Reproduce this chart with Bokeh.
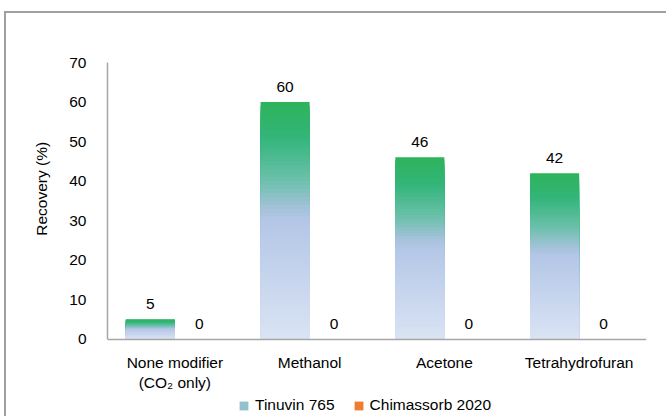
from bokeh.plotting import figure
from bokeh.models import (ColumnDataSource, FactorRange, Range1d, Legend, LegendItem,
                          FixedTicker)
from bokeh.transform import dodge
from bokeh.embed import file_html
from bokeh.resources import INLINE
from bokeh.core.properties import value

# ---- data ----
categories = ["None modifier\n(CO\u2082 only)", "Methanol", "Acetone", "Tetrahydrofuran"]
series_names = ["Tinuvin 765", "Chimassorb 2020"]
tinuvin = [5, 60, 46, 42]
chimassorb = [0, 0, 0, 0]
y_ticks = [0, 10, 20, 30, 40, 50, 60, 70]
y_title = "Recovery (%)"

# ---- styles / layout ----
FONT = "Liberation Sans"
FS = "15.5px"
AXIS_COLOR = "#A6A6A6"
ORANGE = "#ED7D31"
GRAD_STOPS = [(0.00, "#2EB35B"), (0.15, "#33B57A"), (0.33, "#6CC0AC"),
              (0.45, "#A5C2DA"), (0.50, "#B4C7E7"), (1.00, "#D9E3F3")]
N_SLICES = 60
BAR_W = 0.364
OFF = BAR_W / 2
Y_MIN = -20.1          # frame continues below zero to hold labels and legend
TITLE_PAD = "\u00a0" * 24   # lifts the y title to the middle of the 0-70 axis


def hex2rgb(h):
    h = h.lstrip("#")
    return [int(h[i:i + 2], 16) for i in (0, 2, 4)]


def grad(t):
    for (t0, c0), (t1, c1) in zip(GRAD_STOPS[:-1], GRAD_STOPS[1:]):
        if t <= t1:
            f = (t - t0) / (t1 - t0) if t1 > t0 else 0
            a, b = hex2rgb(c0), hex2rgb(c1)
            return "#%02x%02x%02x" % tuple(round(a[i] + (b[i] - a[i]) * f) for i in range(3))
    return GRAD_STOPS[-1][1]


# gradient slices (each from 0 to a fraction of the bar value, largest first)
sx, stop, scol = [], [], []
for k in range(N_SLICES, 0, -1):
    for c, v in zip(categories, tinuvin):
        sx.append(c)
        stop.append(v * k / N_SLICES)
        scol.append(grad(1 - (k - 0.5) / N_SLICES))
slices = ColumnDataSource(dict(cat=sx, top=stop, color=scol))
LEGEND_K = 36
legend_index = (N_SLICES - LEGEND_K) * len(categories)

src = ColumnDataSource(dict(cat=categories, tin=tinuvin, chi=chimassorb,
                            tin_lbl=[str(v) for v in tinuvin],
                            chi_lbl=[str(v) for v in chimassorb]))

p = figure(x_range=FactorRange(*categories, range_padding=0),
           y_range=Range1d(Y_MIN, 70),
           frame_width=539, frame_height=356, output_backend="svg", toolbar_location=None,
           min_border_left=101, min_border_right=22, min_border_top=49, min_border_bottom=0,
           margin=(13, 0, 0, 6),
           styles={"box-shadow": "-2px -2px 0 0 #A0A0A0"})
p.x_range.factor_padding = 0
p.outline_line_color = None
p.xgrid.visible = False
p.ygrid.visible = False
p.background_fill_color = "white"
p.border_fill_color = "white"

r_tin = p.vbar(x=dodge("cat", -OFF, range=p.x_range), top="top", bottom=0, width=BAR_W,
               source=slices, fill_color="color", line_color=None)
r_chi = p.vbar(x=dodge("cat", OFF, range=p.x_range), top="chi", bottom=0, width=BAR_W,
               source=src, fill_color=ORANGE, line_color=None)

p.text(x=dodge("cat", -OFF, range=p.x_range), y="tin", text="tin_lbl", source=src,
       text_align="center", text_baseline="alphabetic", y_offset=-15,
       text_font=value(FONT), text_font_size=FS, text_color="black")
p.text(x=dodge("cat", OFF, range=p.x_range), y="chi", text="chi_lbl", source=src,
       text_align="center", text_baseline="alphabetic", y_offset=-15,
       text_font=value(FONT), text_font_size=FS, text_color="black")

# axes
p.yaxis.ticker = FixedTicker(ticks=y_ticks)
p.yaxis.bounds = (0, 70)
p.yaxis.axis_label = TITLE_PAD + y_title
p.yaxis.axis_label_text_font = FONT
p.yaxis.axis_label_text_font_size = FS
p.yaxis.axis_label_text_font_style = "normal"
p.yaxis.axis_label_text_color = "black"
p.yaxis.axis_label_standoff = 16
p.xaxis.fixed_location = 0
for ax in (p.xaxis[0], p.yaxis[0]):
    ax.axis_line_color = AXIS_COLOR
    ax.axis_line_width = 1.5
    ax.major_tick_line_color = None
    ax.minor_tick_line_color = None
    ax.major_tick_out = 0
    ax.major_tick_in = 0
    ax.major_label_text_font = FONT
    ax.major_label_text_font_size = FS
    ax.major_label_text_color = "black"
p.yaxis.major_label_standoff = 21
p.xaxis.major_label_standoff = 15

# legend (inside the extended frame, under the category labels)
legend = Legend(items=[LegendItem(label=series_names[0], renderers=[r_tin], index=legend_index),
                       LegendItem(label=series_names[1], renderers=[r_chi])],
                orientation="horizontal", location=(131, 4),
                glyph_width=11, glyph_height=11, label_standoff=6, spacing=18,
                padding=0, margin=0, border_line_color=None, background_fill_alpha=0,
                label_text_font=FONT, label_text_font_size=FS, label_text_color="black")
p.add_layout(legend, "center")

open("out.html", "w").write(file_html(p, INLINE))
